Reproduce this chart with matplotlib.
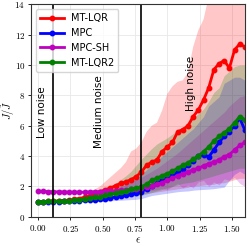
import numpy as np
import matplotlib
matplotlib.use('Agg')
import matplotlib.pyplot as plt
from matplotlib.ticker import FuncFormatter

plt.rcParams['mathtext.fontset'] = 'cm'

# noise level grid
eps = np.linspace(0, 1.6, 41)

mtlqr = [1.0, 1.0, 1.01, 1.02, 1.04, 1.07, 1.1, 1.15, 1.2, 1.28, 1.38, 1.5, 1.65, 1.78,
         1.9, 2.05, 2.2, 2.3, 2.45, 2.65, 2.95, 3.4, 3.6, 3.75, 4.3, 4.6, 4.9, 5.6, 5.75,
         6.0, 6.6, 7.05, 7.7, 8.5, 9.7, 10.1, 10.3, 9.8, 11.0, 11.4, 11.2]
mtlqr_lo = [0.95, 0.95, 0.96, 0.97, 0.98, 1.0, 1.02, 1.04, 1.06, 1.08, 1.1, 1.13, 1.16, 1.2,
            1.23, 1.26, 1.3, 1.33, 1.36, 1.4, 1.45, 1.5, 1.55, 1.6, 1.65, 1.7, 1.75, 1.8, 1.85,
            1.9, 2.0, 2.0, 2.05, 2.1, 2.1, 2.2, 2.2, 2.3, 2.4, 2.5, 2.5]
mtlqr_hi = [1.05, 1.06, 1.07, 1.08, 1.1, 1.13, 1.16, 1.22, 1.3, 1.45, 1.6, 1.8, 2.0, 2.3,
            2.6, 2.9, 3.2, 3.6, 4.3, 4.5, 4.9, 5.6, 6.0, 6.2, 7.0, 8.1, 8.6, 8.9, 9.0, 9.5,
            11.2, 12.3, 13.0, 14.5, 15.5, 16.5, 17.0, 17.5, 18.0, 18.5, 19.0]

mpc = [0.98, 0.98, 0.99, 1.0, 1.0, 1.01, 1.02, 1.04, 1.06, 1.08, 1.1, 1.13, 1.17, 1.2,
       1.25, 1.3, 1.36, 1.42, 1.48, 1.55, 1.65, 1.85, 2.0, 2.2, 2.4, 2.55, 2.75, 2.95, 3.15,
       3.4, 3.7, 4.0, 4.1, 3.95, 4.4, 4.9, 5.3, 5.6, 6.0, 6.5, 5.7]
mpc_lo = [0.93, 0.93, 0.94, 0.94, 0.95, 0.95, 0.96, 0.97, 0.98, 0.99, 1.0, 1.01, 1.02, 1.03,
          1.05, 1.07, 1.09, 1.11, 1.13, 1.15, 1.2, 1.3, 1.4, 1.45, 1.5, 1.55, 1.6, 1.65, 1.68,
          1.7, 1.75, 1.78, 1.8, 1.82, 1.85, 1.9, 1.95, 2.4, 2.8, 3.0, 2.8]
mpc_hi = [1.03, 1.03, 1.04, 1.05, 1.06, 1.08, 1.1, 1.13, 1.17, 1.22, 1.28, 1.35, 1.45, 1.55,
          1.68, 1.82, 1.98, 2.15, 2.35, 2.55, 2.8, 3.1, 3.4, 3.7, 4.0, 4.3, 4.6, 4.9, 5.2,
          5.5, 5.8, 6.2, 6.6, 7.3, 7.6, 7.9, 8.8, 9.0, 9.2, 9.2, 9.0]

mpcsh = [1.68, 1.67, 1.66, 1.65, 1.64, 1.63, 1.62, 1.62, 1.62, 1.62, 1.63, 1.64, 1.65, 1.67,
         1.69, 1.71, 1.74, 1.77, 1.8, 1.84, 1.88, 1.95, 2.05, 2.15, 2.25, 2.4, 2.55, 2.7,
         2.85, 2.95, 3.1, 3.2, 3.35, 3.5, 3.6, 3.75, 3.95, 4.1, 4.4, 4.7, 4.9]
mpcsh_lo = [1.58, 1.57, 1.56, 1.55, 1.54, 1.53, 1.52, 1.52, 1.52, 1.52, 1.52, 1.53, 1.53, 1.54,
            1.55, 1.56, 1.57, 1.58, 1.6, 1.62, 1.64, 1.68, 1.72, 1.78, 1.85, 1.8, 2.0, 2.2,
            1.9, 2.1, 1.9, 2.3, 2.4, 2.0, 2.3, 2.1, 2.5, 2.4, 2.6, 2.2, 2.0]
mpcsh_hi = [1.78, 1.77, 1.76, 1.75, 1.74, 1.73, 1.73, 1.73, 1.73, 1.74, 1.75, 1.77, 1.8, 1.85,
            1.9, 2.0, 2.1, 2.2, 2.3, 2.45, 2.6, 2.8, 3.0, 3.2, 3.45, 3.7, 3.95, 4.2, 4.5,
            4.8, 5.1, 5.4, 5.7, 6.0, 6.3, 6.6, 6.9, 7.3, 7.6, 7.9, 8.0]

mtlqr2 = [1.0, 1.0, 1.01, 1.02, 1.03, 1.05, 1.07, 1.1, 1.13, 1.17, 1.22, 1.27, 1.33, 1.4,
          1.48, 1.56, 1.64, 1.72, 1.8, 1.88, 1.98, 2.15, 2.4, 2.55, 2.7, 2.85, 3.0, 3.2, 3.4,
          3.55, 3.8, 4.0, 4.3, 4.6, 5.0, 5.3, 5.55, 5.8, 6.2, 6.6, 6.4]
mtlqr2_lo = [0.95, 0.95, 0.96, 0.96, 0.97, 0.98, 0.99, 1.0, 1.02, 1.04, 1.06, 1.09, 1.12, 1.15,
             1.19, 1.23, 1.27, 1.31, 1.35, 1.38, 1.42, 1.5, 1.6, 1.7, 1.8, 1.9, 2.0, 2.1, 2.2,
             2.25, 2.3, 2.4, 2.5, 2.6, 2.7, 2.8, 2.9, 3.0, 3.1, 3.2, 3.2]
mtlqr2_hi = [1.05, 1.05, 1.06, 1.08, 1.1, 1.13, 1.16, 1.2, 1.25, 1.32, 1.4, 1.5, 1.62, 1.75,
             1.95, 2.2, 2.45, 2.7, 3.0, 3.4, 3.8, 4.15, 4.5, 4.8, 5.0, 5.2, 5.45, 5.7, 5.9, 6.2,
             6.5, 6.8, 7.1, 7.6, 8.2, 8.5, 9.3, 9.6, 9.9, 10.0, 10.0]

series = [
    ('MT-LQR', mtlqr, mtlqr_lo, mtlqr_hi, 'r'),
    ('MPC', mpc, mpc_lo, mpc_hi, 'b'),
    ('MPC-SH', mpcsh, mpcsh_lo, mpcsh_hi, 'm'),
    ('MT-LQR2', mtlqr2, mtlqr2_lo, mtlqr2_hi, 'g'),
]

fig = plt.figure(figsize=(2.49, 2.46), dpi=100)
ax = fig.add_axes([0.1265, 0.119, 0.857, 0.863])

for name, y, lo, hi, c in series:
    ax.fill_between(eps, lo, hi, color=c, alpha=0.22, lw=0)
for name, y, lo, hi, c in series:
    ax.plot(eps, y, 'o-', color=c, lw=2, ms=3.2, label=name)

ax.axvline(0.12, color='k', lw=1.2)
ax.axvline(0.8, color='k', lw=1.2)

ax.text(0.03, 5.2, 'Low noise', rotation=90, ha='center', va='bottom', fontsize=7.5)
ax.text(0.47, 4.5, 'Medium noise', rotation=90, ha='center', va='bottom', fontsize=7.5)
ax.text(1.18, 7.0, 'High noise', rotation=90, ha='center', va='bottom', fontsize=7.5)

ax.set_xlim(-0.05, 1.6)
ax.set_ylim(0, 14)
ax.set_xticks([0, 0.25, 0.5, 0.75, 1.0, 1.25, 1.5])
ax.set_yticks([0, 2, 4, 6, 8, 10, 12, 14])
ax.xaxis.set_major_formatter(FuncFormatter(lambda v, p: f'${v:.2f}$'))
ax.yaxis.set_major_formatter(FuncFormatter(lambda v, p: f'${v:.0f}$'))
ax.tick_params(labelsize=6.5, length=2.5, width=0.6, pad=2)
ax.grid(color='#e8e8e8', lw=0.6)
ax.set_axisbelow(True)
for s in ax.spines.values():
    s.set_color('#333333')
    s.set_linewidth(0.8)

ax.set_xlabel(r'$\epsilon$', fontsize=8)
ax.set_ylabel(r'$J/\tilde{J}$', fontsize=7.5)
ax.xaxis.set_label_coords(0.5, -0.09)
ax.yaxis.set_label_coords(-0.07, 0.5)
ax.legend(loc='upper left', fontsize=7, handlelength=2.4, borderaxespad=0.5)

fig.savefig('out.png', dpi=100)
